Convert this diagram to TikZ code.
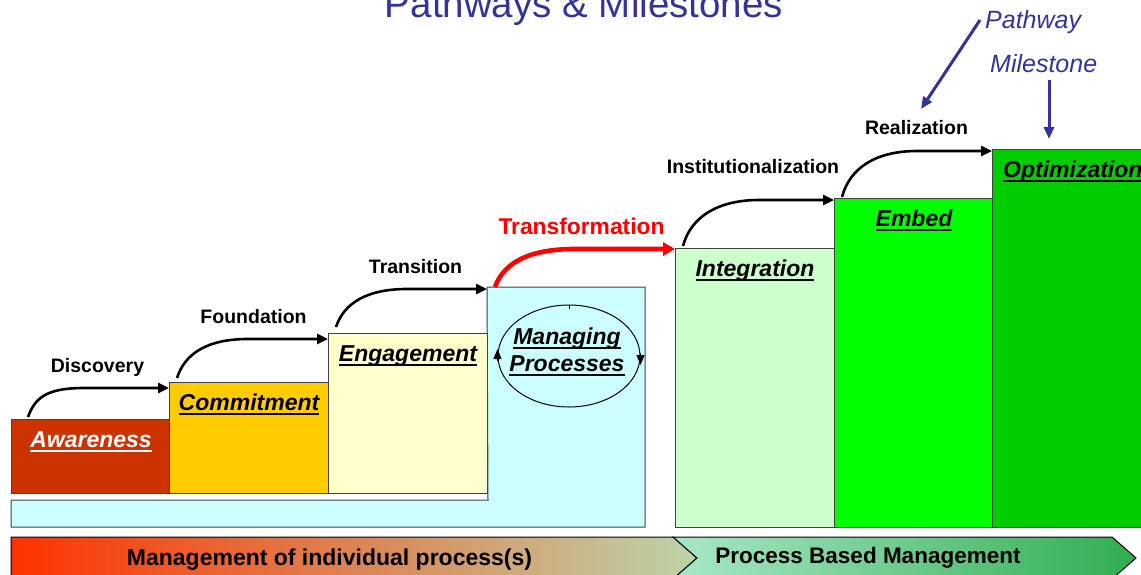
\documentclass[tikz,border=0pt]{standalone}
\usepackage{fontspec}
\setmainfont{Liberation Sans}
\usetikzlibrary{shapes.geometric,arrows.meta,calc}
\definecolor{cAware}{HTML}{CC3300}
\definecolor{cCommit}{HTML}{FFCC00}
\definecolor{cEngage}{HTML}{FFFFCC}
\definecolor{cManage}{HTML}{CCFFFF}
\definecolor{cInteg}{HTML}{CCFFCC}
\definecolor{cEmbed}{HTML}{00FF00}
\definecolor{cOptim}{HTML}{00CC00}
\definecolor{cBlue}{HTML}{333399}
\definecolor{cRed}{HTML}{FF0000}
\definecolor{boxline}{HTML}{404040}
\definecolor{bandA}{HTML}{FF3300}
\definecolor{bandB}{HTML}{BCD4A8}
\definecolor{bandC}{HTML}{A8E8C8}
\definecolor{bandD}{HTML}{30AE50}
\newcommand\MyUnder[1]{\setbox0\hbox{#1}\rlap{\rule[-5pt]{\wd0}{2.4pt}}\box0}
\begin{document}
\begin{tikzpicture}[x=1pt,y=-1pt,
  box/.style={draw=boxline, line width=1pt, rectangle, inner sep=0pt, outer sep=0pt, anchor=north west},
  blab/.style={font=\fontsize{23}{27}\selectfont\bfseries\itshape, inner sep=0pt, anchor=base},
  plab/.style={font=\fontsize{19.5}{23}\selectfont\bfseries, inner sep=0pt},
  pathw/.style={line width=2.6pt, -{Triangle[length=11pt,width=10pt]}},
  redw/.style={draw=cRed, line width=4.6pt, -{Triangle[length=12pt,width=13pt]}},
  bluew/.style={draw=cBlue, line width=3pt, -{Triangle[length=12pt,width=10pt]}},
  smallw/.style={line width=1pt, -{Triangle[length=10pt,width=8pt]}},
  bandtxt/.style={font=\fontsize{23}{27}\selectfont\bfseries, inner sep=0pt, anchor=base}]
\useasboundingbox (0,0) rectangle (1141,574);
\clip (0,0) rectangle (1141,574);

% title and legend
\node[font=\fontsize{38.5}{44}\selectfont, text=cBlue, inner sep=0pt, anchor=base] (title) at (584,17) {Pathways \& Milestones};
\node[font=\fontsize{25}{30}\selectfont\itshape, text=cBlue, inner sep=0pt, anchor=base west] (pwl) at (985,28) {Pathway};
\node[font=\fontsize{25}{30}\selectfont\itshape, text=cBlue, inner sep=0pt, anchor=base west] (msl) at (990,72) {Milestone};
\coordinate (pwTip) at (921,109);
\coordinate (msTip) at (1049,139);
\draw[bluew] ($(pwl.base west)+(-5,-8)$) -- (pwTip);
\draw[bluew] ($(msl.base west)+(59,8)$) -- (msTip);

% light blue L shape
\node[box, draw=none, fill=cManage, minimum width=158pt, minimum height=240pt] (mb) at (487,287) {};
\node[box, draw=none, fill=cManage, minimum width=477pt, minimum height=27pt] (bs) at (11,500) {};
\draw[boxline, line width=1pt] (bs.north west) -- (bs.north east) -- (mb.north west) -- (mb.north east) -- (mb.south east) -- (bs.south west) -- cycle;

% steps
\node[box, fill=cAware, minimum width=158pt, minimum height=74pt] (aw) at (11,419) {};
\node[box, fill=cCommit, minimum width=159pt, minimum height=111pt] (cm) at (169,382) {};
\node[box, fill=cEngage, minimum width=159pt, minimum height=160pt] (en) at (328,333) {};
\node[box, fill=cInteg, minimum width=159pt, minimum height=279pt] (ig) at (675,248) {};
\node[box, fill=cEmbed, minimum width=158pt, minimum height=329pt] (em) at (834,198) {};
\node[box, fill=cOptim, minimum width=160pt, minimum height=378pt] (op) at (992,149) {};

\node[blab, text=white] (awt) at (91,447) {\MyUnder{Awareness}};
\node[blab] (cmt) at (249,410) {\MyUnder{Commitment}};
\node[blab] (ent) at (408,361) {\MyUnder{Engagement}};
\node[blab] (igt) at (755,276) {\MyUnder{Integration}};
\node[blab] (emt) at (914,226) {\MyUnder{Embed}};
\node[blab, anchor=base west] (opt) at (1003,177) {\MyUnder{Optimization}};

% managing processes
\node[ellipse, draw, line width=1pt, minimum width=142pt, minimum height=102pt, inner sep=0pt] (mp) at (569,356) {};
\node[blab] (mpa) at (567,344) {\MyUnder{Managing}};
\node[blab] (mpb) at (567,371) {\MyUnder{Processes}};
\draw[smallw] ([yshift=-5pt]mp.west) -- ([yshift=7pt]mp.west);
\draw[smallw] ([yshift=3pt]mp.east) -- ([yshift=-9pt]mp.east);
\draw[line width=1pt] (mp.north) -- ++(0,4);

% pathway labels
\node[plab] (lDis) at (97.5,367) {Discovery};
\node[plab] (lFou) at (253.5,317) {Foundation};
\node[plab] (lTra) at (415.5,267) {Transition};
\node[font=\fontsize{22.8}{27}\selectfont\bfseries, text=cRed, inner sep=0pt] (lTrf) at (581.5,226) {Transformation};
\node[plab] (lIns) at (753,167) {Institutionalization};
\node[plab] (lRea) at (916.5,128) {Realization};

% pathway arrows
\draw[pathw] ($(aw.north west)+(17,-2)$) .. controls +(7,-19) and +(-38,0) .. ($(cm.north west)+(-85,6)$) -- ($(cm.north west)+(0,6)$);
\draw[pathw] ($(cm.north west)+(8,-4)$) .. controls +(8,-25) and +(-40,0) .. ($(en.north west)+(-80,6)$) -- ($(en.north west)+(0,6)$);
\draw[pathw] ($(en.north west)+(8,-6)$) .. controls +(8,-24) and +(-40,0) .. ($(mb.north west)+(-80,2)$) -- ($(mb.north west)+(0,2)$);
\draw[redw] ($(mb.north west)+(8,0)$) .. controls +(9,-25) and +(-45,0) .. ($(ig.north west)+(-100,1)$) -- ($(ig.north west)+(0,1)$);
\draw[pathw] ($(ig.north west)+(8,-2)$) .. controls +(8,-30) and +(-40,0) .. ($(em.north west)+(-75,2)$) -- ($(em.north west)+(0,2)$);
\draw[pathw] ($(em.north west)+(8,-1)$) .. controls +(8,-30) and +(-40,0) .. ($(op.north west)+(-75,2)$) -- ($(op.north west)+(0,2)$);

% bottom band
\shadedraw[left color=bandA, right color=bandB, draw=black, line width=1pt]
  (11,537) -- (673,537) -- (697,558) -- (673,579) -- (11,579) -- cycle;
\shadedraw[left color=bandC, right color=bandD, draw=black, line width=1pt]
  (673,537) -- (1112,537) -- (1136,558) -- (1112,579) -- (673,579) -- (697,558) -- cycle;
\node[bandtxt] (bandL) at (329.5,565) {Management of individual process(s)};
\node[bandtxt, font=\fontsize{22.5}{27}\selectfont\bfseries] (bandR) at (868,563) {Process Based Management};
\end{tikzpicture}
\end{document}
